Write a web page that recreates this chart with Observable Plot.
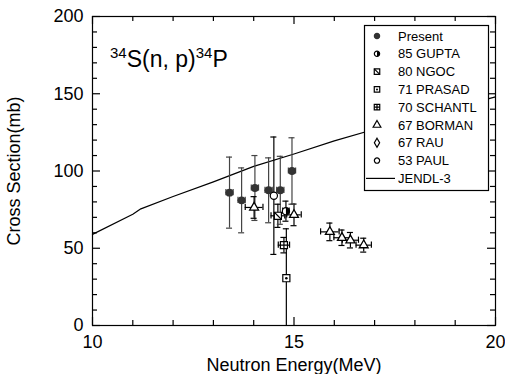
<!DOCTYPE html>
<html><head><meta charset="utf-8">
<script src="https://cdn.jsdelivr.net/npm/d3@7"></script>
<script src="https://cdn.jsdelivr.net/npm/@observablehq/plot@0.6"></script>
<style>body{margin:0;background:#fff;} svg{font-family: Arial, "Liberation Sans", sans-serif;}</style>
</head><body><div id="chart"></div><script>
// ---- data ----
const presentX = [13.40, 13.70, 14.03, 14.37, 14.66, 14.95];
const presentY = [86, 81, 89, 87.5, 87.5, 100];
const presentDy = [23, 21, 21, 21, 22, 21.5];
const presentDx = [0.09, 0.09, 0.09, 0.09, 0.09, 0.09];

const guptaX = [14.80], guptaY = [74], guptaDy = [6.5], guptaDx = [0.08];
const ngocX = [14.60], ngocY = [71], ngocDy = [7.5], ngocDx = [0.17];
const prasadX = [14.81], prasadY = [30.6], prasadDy = [32], prasadDx = [0];
const schantlX = [14.75], schantlY = [52], schantlDy = [5], schantlDx = [0.14];
const bormanX = [14.01, 15.00, 15.89, 16.19, 16.40, 16.73];
const bormanY = [76.4, 71.6, 60.6, 56.8, 55.2, 52];
const bormanDy = [7, 7, 5.7, 5, 5, 4.5];
const bormanDx = [0.22, 0.18, 0.23, 0.2, 0.2, 0.19];
const rauX = [], rauY = [], rauDy = [], rauDx = [];
const paulX = [14.50], paulY = [84], paulDy = [38], paulDx = [0];

const jendlX = [10, 11, 11.2, 12, 13, 14, 15, 16, 17, 18, 19, 20];
const jendlY = [59, 72, 75.5, 83.5, 93, 103, 111, 119.5, 127, 134, 141, 148];

const xTickLabels = [10, 15, 20];
const yTickLabels = [0, 50, 100, 150, 200];
const xMinor = [11, 12, 13, 14, 16, 17, 18, 19];
const yMinor = [10, 20, 30, 40, 60, 70, 80, 90, 110, 120, 130, 140, 160, 170, 180, 190];

const legendNames = ["Present", "85 GUPTA", "80 NGOC", "71 PRASAD", "70 SCHANTL", "67 BORMAN", "67 RAU", "53 PAUL", "JENDL-3"];

// ---- tables ----
const seriesList = [
  {name: "Present", x: presentX, y: presentY, dy: presentDy, dx: presentDx},
  {name: "85 GUPTA", x: guptaX, y: guptaY, dy: guptaDy, dx: guptaDx},
  {name: "80 NGOC", x: ngocX, y: ngocY, dy: ngocDy, dx: ngocDx},
  {name: "71 PRASAD", x: prasadX, y: prasadY, dy: prasadDy, dx: prasadDx},
  {name: "70 SCHANTL", x: schantlX, y: schantlY, dy: schantlDy, dx: schantlDx},
  {name: "67 BORMAN", x: bormanX, y: bormanY, dy: bormanDy, dx: bormanDx},
  {name: "67 RAU", x: rauX, y: rauY, dy: rauDy, dx: rauDx},
  {name: "53 PAUL", x: paulX, y: paulY, dy: paulDy, dx: paulDx}
];
const rows = seriesList.flatMap(s => s.x.map((x, i) => ({series: s.name, x, y: s.y[i], dy: s.dy[i], dx: s.dx[i]})));
const jendl = jendlX.map((x, i) => ({x, y: jendlY[i]}));
const of = name => rows.filter(d => d.series === name);
const errColor = d => d.series === "Present" ? "#444" : "black";

// ---- custom symbols ----
const diagSym = {draw(c, size) { const s = Math.sqrt(size) / 2; c.moveTo(-s, -s); c.lineTo(s, s); }};
const crossSym = {draw(c, size) { const s = Math.sqrt(size) / 2; c.moveTo(-s, 0); c.lineTo(s, 0); c.moveTo(0, -s); c.lineTo(0, s); }};
const halfSym = {draw(c, size) { const r = Math.sqrt(size / Math.PI); c.moveTo(0, -r); c.arc(0, 0, r, -Math.PI / 2, Math.PI / 2); c.closePath(); }};

const X0 = 10, X1 = 20, Y0 = 0, Y1 = 200;
const FW = 403, FH = 309;               // frame size in px
const pxX = px => px * (X1 - X0) / FW;   // px -> MeV
const pxY = px => px * (Y1 - Y0) / FH;   // px -> mb
const CW = 0.075;  // error-bar cap half width (MeV)
const CH = 2;      // horizontal error-bar cap half height (mb)
const hx = rows.filter(d => d.dx > 0);
const tk = {stroke: "black", strokeWidth: 1.2};

const chart = Plot.plot({
  width: 505, height: 374,
  marginLeft: 92, marginRight: 10, marginTop: 16, marginBottom: 49,
  style: {fontFamily: "Arial, 'Liberation Sans', sans-serif", fontSize: "18px", color: "black", background: "white", overflow: "visible"},
  x: {domain: [X0, X1]},
  y: {domain: [Y0, Y1]},
  marks: [
    Plot.axisX(xTickLabels, {tickSize: 0, tickPadding: 10, fontSize: 18, tickFormat: d => String(d), label: "Neutron Energy(MeV)", labelAnchor: "center", labelOffset: 45, labelArrow: "none"}),
    Plot.axisY(yTickLabels, {tickSize: 0, tickPadding: 9, fontSize: 18, tickFormat: d => String(d), label: "Cross Section(mb)", labelAnchor: "center", labelOffset: 85, labelArrow: "none"}),
    // inward ticks, mirrored on all four sides
    Plot.ruleX(xMinor, {x: d => d, y1: Y0, y2: Y0 + pxY(5), ...tk}),
    Plot.ruleX(xMinor, {x: d => d, y1: Y1, y2: Y1 - pxY(5), ...tk}),
    Plot.ruleX(xTickLabels, {x: d => d, y1: Y0, y2: Y0 + pxY(8), ...tk}),
    Plot.ruleX(xTickLabels, {x: d => d, y1: Y1, y2: Y1 - pxY(8), ...tk}),
    Plot.ruleY(yMinor, {y: d => d, x1: X0, x2: X0 + pxX(5), ...tk}),
    Plot.ruleY(yMinor, {y: d => d, x1: X1, x2: X1 - pxX(5), ...tk}),
    Plot.ruleY(yTickLabels, {y: d => d, x1: X0, x2: X0 + pxX(8), ...tk}),
    Plot.ruleY(yTickLabels, {y: d => d, x1: X1, x2: X1 - pxX(8), ...tk}),
    // JENDL-3 curve
    Plot.line(jendl, {x: "x", y: "y", stroke: "black", strokeWidth: 1.2}),
    // vertical error bars
    Plot.ruleX(rows, {x: "x", y1: d => d.y - d.dy, y2: d => d.y + d.dy, stroke: errColor, strokeWidth: 1.2, clip: true}),
    Plot.ruleY(rows, {y: d => d.y + d.dy, x1: d => d.x - CW, x2: d => d.x + CW, stroke: errColor, strokeWidth: 1.2}),
    Plot.ruleY(rows.filter(d => d.y - d.dy > 0), {y: d => d.y - d.dy, x1: d => d.x - CW, x2: d => d.x + CW, stroke: errColor, strokeWidth: 1.2}),
    // horizontal error bars
    Plot.ruleY(hx, {y: "y", x1: d => d.x - d.dx, x2: d => d.x + d.dx, stroke: errColor, strokeWidth: 1.2}),
    Plot.ruleX(hx, {x: d => d.x - d.dx, y1: d => d.y - CH, y2: d => d.y + CH, stroke: errColor, strokeWidth: 1.2}),
    Plot.ruleX(hx, {x: d => d.x + d.dx, y1: d => d.y - CH, y2: d => d.y + CH, stroke: errColor, strokeWidth: 1.2}),
    // markers
    Plot.dot(of("Present"), {x: "x", y: "y", r: 3.2, fill: "#333", stroke: "#333"}),
    Plot.dot(of("53 PAUL"), {x: "x", y: "y", r: 3.6, fill: "white", stroke: "black", strokeWidth: 1.2}),
    Plot.dot(of("67 BORMAN"), {x: "x", y: "y", r: 3.3, symbol: "triangle", fill: "white", stroke: "black", strokeWidth: 1.3}),
    Plot.dot(of("80 NGOC"), {x: "x", y: "y", r: 4, symbol: "square", fill: "white", stroke: "black", strokeWidth: 1.2}),
    Plot.dot(of("80 NGOC"), {x: "x", y: "y", r: 4, symbol: diagSym, fill: "none", stroke: "black", strokeWidth: 1.2}),
    Plot.dot(of("71 PRASAD"), {x: "x", y: "y", r: 4, symbol: "square", fill: "white", stroke: "black", strokeWidth: 1.2}),
    Plot.dot(of("71 PRASAD"), {x: "x", y: "y", r: 1.3, fill: "black"}),
    Plot.dot(of("70 SCHANTL"), {x: "x", y: "y", r: 4, symbol: "square", fill: "white", stroke: "black", strokeWidth: 1.2}),
    Plot.dot(of("70 SCHANTL"), {x: "x", y: "y", r: 4, symbol: crossSym, fill: "none", stroke: "black", strokeWidth: 1.2}),
    Plot.dot(of("85 GUPTA"), {x: "x", y: "y", r: 3.6, fill: "white", stroke: "black", strokeWidth: 1.2}),
    Plot.dot(of("85 GUPTA"), {x: "x", y: "y", r: 3.6, symbol: halfSym, fill: "black", stroke: "none"}),
    Plot.frame({stroke: "black", strokeWidth: 1.2})
  ]
});
document.getElementById("chart").appendChild(chart);

// ---- title with superscripts ----
const svg = d3.select(chart);
const t = svg.append("text").attr("x", 110).attr("y", 67).attr("font-size", 23).attr("fill", "black").attr("text-anchor", "start");
t.append("tspan").attr("font-size", 15).attr("dy", -9).text("34");
t.append("tspan").attr("font-size", 23).attr("dy", 9).text("S(n, p)");
t.append("tspan").attr("font-size", 15).attr("dy", -9).text("34");
t.append("tspan").attr("font-size", 23).attr("dy", 9).text("P");

// ---- legend (inside plot, white box over the curve) ----
const lg = svg.append("g").attr("font-size", 13).attr("fill", "black").attr("text-anchor", "start");
lg.append("rect").attr("x", 364.5).attr("y", 25.5).attr("width", 124).attr("height", 165)
  .attr("fill", "white").attr("stroke", "black").attr("stroke-width", 1.2);
const legSym = {
  "Present": [{type: d3.symbolCircle, size: 22, fill: "#333", stroke: "#333"}],
  "85 GUPTA": [{type: d3.symbolCircle, size: 22, fill: "white", stroke: "black"}, {type: halfSym, size: 22, fill: "black", stroke: "none"}],
  "80 NGOC": [{type: d3.symbolSquare, size: 30, fill: "white", stroke: "black"}, {type: diagSym, size: 30, fill: "none", stroke: "black"}],
  "71 PRASAD": [{type: d3.symbolSquare, size: 30, fill: "white", stroke: "black"}, {type: d3.symbolCircle, size: 3, fill: "black", stroke: "none"}],
  "70 SCHANTL": [{type: d3.symbolSquare, size: 30, fill: "white", stroke: "black"}, {type: crossSym, size: 30, fill: "none", stroke: "black"}],
  "67 BORMAN": [{type: d3.symbolTriangle, size: 26, fill: "white", stroke: "black"}],
  "67 RAU": [{type: d3.symbolDiamond, size: 24, fill: "white", stroke: "black"}],
  "53 PAUL": [{type: d3.symbolCircle, size: 22, fill: "white", stroke: "black"}]
};
legendNames.forEach((name, i) => {
  const cy = 36 + i * 17.8;
  if (name === "JENDL-3") {
    lg.append("line").attr("x1", 366).attr("x2", 395).attr("y1", cy).attr("y2", cy).attr("stroke", "black").attr("stroke-width", 1.2);
  } else {
    for (const s of legSym[name]) {
      lg.append("path").attr("d", d3.symbol(s.type, s.size)()).attr("transform", `translate(377,${cy})`)
        .attr("fill", s.fill).attr("stroke", s.stroke).attr("stroke-width", 1.2);
    }
  }
  lg.append("text").attr("x", 398).attr("y", cy).attr("dy", "0.35em").text(name);
});
</script></body></html>
